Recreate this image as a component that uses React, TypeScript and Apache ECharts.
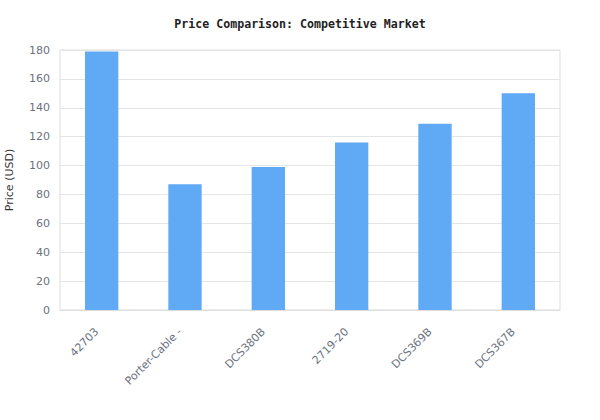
import React, { useEffect, useRef } from "react";
import * as echarts from "echarts";

const categories = ["42703", "Porter-Cable -", "DCS380B", "2719-20", "DCS369B", "DCS367B"];
const prices = [179, 87, 99, 116, 129, 150];

export default function App() {
  const ref = useRef<HTMLDivElement>(null);
  useEffect(() => {
    const chart = echarts.init(ref.current!, null, { renderer: "svg" });
    chart.setOption({
      animation: false,
      title: {
        text: "Price Comparison: Competitive Market",
        left: "center",
        top: 13,
        textStyle: {
          fontFamily: "DejaVu Sans Mono",
          fontSize: 11.6,
          fontWeight: "bold",
          color: "#222",
        },
      },
      grid: {
        left: 60,
        right: 40,
        top: 50,
        bottom: 110,
        outerBoundsMode: "none",
        containLabel: false,
        show: true,
        borderColor: "#dddddd",
        borderWidth: 1,
      },
      xAxis: {
        type: "category",
        data: categories,
        axisLine: { show: true, lineStyle: { color: "#dddddd" } },
        axisTick: { show: false },
        axisLabel: {
          rotate: 45,
          color: "#6b7280",
          fontFamily: "DejaVu Sans",
          fontSize: 11,
          interval: 0,
          margin: 15,
          padding: [0, 7, 0, 0],
        },
      },
      yAxis: {
        type: "value",
        min: 0,
        max: 180,
        interval: 20,
        name: "Price (USD)",
        nameLocation: "middle",
        nameGap: 45,
        nameTextStyle: { color: "#333", fontFamily: "DejaVu Sans", fontSize: 11 },
        axisLine: { show: false },
        axisTick: { show: false },
        splitLine: { lineStyle: { color: "#e5e5e5" } },
        axisLabel: { color: "#6b7280", fontFamily: "DejaVu Sans", fontSize: 11, margin: 10 },
      },
      series: [
        {
          type: "bar",
          data: prices,
          barWidth: "40%",
          itemStyle: { color: "#60a9f5" },
        },
      ],
    });
    return () => chart.dispose();
  }, []);
  return (
    <div
      ref={ref}
      style={{ position: "absolute", left: 0, top: 0, width: 600, height: 420 }}
    />
  );
}
